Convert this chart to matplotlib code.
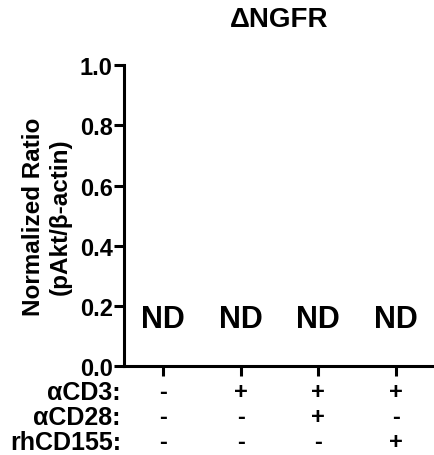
import matplotlib
matplotlib.use("Agg")
import matplotlib.pyplot as plt

plt.rcParams['font.family'] = ['Liberation Sans', 'DejaVu Sans']
plt.rcParams['font.weight'] = 'bold'

title = "\u0394NGFR"
ylabel = "Normalized Ratio\n(pAkt/\u03b2-actin)"
groups = [0, 1, 2, 3]
nd_labels = ["ND", "ND", "ND", "ND"]
nd_level = [0.155, 0.155, 0.155, 0.155]
row_names = ["\u03b1CD3:", "\u03b1CD28:", "rhCD155:"]
row_signs = [["-", "+", "+", "+"],
             ["-", "-", "+", "-"],
             ["-", "-", "-", "+"]]
yticks = [0.0, 0.2, 0.4, 0.6, 0.8, 1.0]

fig = plt.figure(figsize=(4.35, 4.56), dpi=100)
ax = fig.add_axes([0.285, 0.195, 0.715, 0.66])
ax.set_xlim(-0.5, 3.5)
ax.set_ylim(0, 1.0)
for s in ['top', 'right']:
    ax.spines[s].set_visible(False)
for s in ['left', 'bottom']:
    ax.spines[s].set_linewidth(2.2)
ax.set_yticks(yticks)
ax.set_yticklabels([f"{v:.1f}" for v in yticks], fontsize=17, fontweight='bold')
ax.set_xticks(groups)
ax.set_xticklabels([])
ax.tick_params(axis='both', width=2.2, length=7, pad=1)

for g, lab, lev in zip(groups, nd_labels, nd_level):
    ax.text(g, lev, lab, ha='center', va='center', fontsize=22, fontweight='bold')

fig.text(0.5 * (124 + 435) / 435, 1 - 20 / 456, title, ha='center', va='center',
         fontsize=20, fontweight='bold')
ax.set_ylabel(ylabel, fontsize=17.5, fontweight='bold', labelpad=6)

row_y = [393, 418, 443]
for r, (name, signs) in enumerate(zip(row_names, row_signs)):
    yfig = 1 - row_y[r] / 456
    fig.text(121 / 435, yfig, name, ha='right', va='center', fontsize=18, fontweight='bold')
    for g, sgn in zip(groups, signs):
        xd = ax.transData.transform((g, 0))[0]
        fig.text(xd / 435, yfig, sgn, ha='center', va='center', fontsize=17, fontweight='bold')

fig.savefig("out.png", dpi=100)
